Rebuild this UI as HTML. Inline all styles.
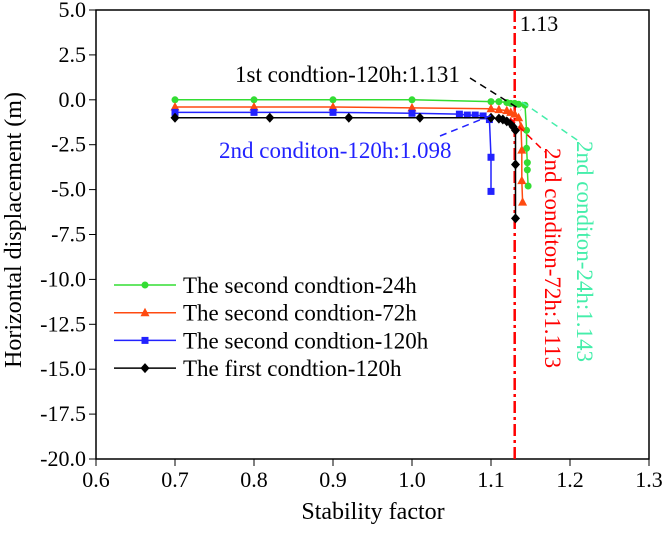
<!DOCTYPE html>
<html><head><meta charset="utf-8"><style>
body{margin:0;background:#fff}
svg text{font-family:"Liberation Serif",serif}
</style></head><body>
<svg id="c" width="664" height="528"></svg>
<script>
const xTicks=[0.6,0.7,0.8,0.9,1.0,1.1,1.2,1.3];
const yTicks=[5,2.5,0,-2.5,-5,-7.5,-10,-12.5,-15,-17.5,-20];
const g24x=[0.7,0.8,0.9,1.0,1.1,1.11,1.12,1.125,1.13,1.135,1.143,1.145,1.145,1.146,1.146,1.147];
const g24y=[0,0,0,0,-0.1,-0.1,-0.15,-0.2,-0.2,-0.25,-0.3,-1.7,-2.7,-3.5,-3.9,-4.8];
const r72x=[0.7,0.8,0.9,1.0,1.1,1.11,1.12,1.125,1.13,1.135,1.138,1.139,1.139,1.14];
const r72y=[-0.4,-0.4,-0.4,-0.45,-0.5,-0.55,-0.6,-0.7,-0.8,-1.0,-1.5,-2.8,-4.5,-5.7];
const b120x=[0.7,0.8,0.9,1.0,1.06,1.07,1.08,1.09,1.098,1.1,1.1];
const b120y=[-0.7,-0.7,-0.7,-0.75,-0.8,-0.85,-0.85,-0.9,-1.1,-3.2,-5.1];
const k120x=[0.7,0.82,0.92,1.01,1.1,1.11,1.115,1.12,1.125,1.128,1.131,1.131,1.131];
const k120y=[-1.0,-1.0,-1.0,-1.0,-1.0,-1.05,-1.1,-1.2,-1.3,-1.5,-1.7,-3.6,-6.6];
const L=96,R=649,T=10,B=459;
const sx=v=>L+(v-0.6)/0.7*(R-L);
const sy=v=>T+(5-v)/25*(B-T);
const s=document.getElementById('c');const NS='http://www.w3.org/2000/svg';
function el(t,a,p){const e=document.createElementNS(NS,t);for(const k in a)e.setAttribute(k,a[k]);(p||s).appendChild(e);return e;}
let f=el('rect',{x:L,y:T,width:R-L,height:B-T,fill:'none',stroke:'#000','stroke-width':1.5});

xTicks.forEach(v=>{el('line',{x1:sx(v),x2:sx(v),y1:B,y2:B+7,stroke:'#000'});
 const t=el('text',{x:sx(v),y:487,'text-anchor':'middle','font-size':22});t.textContent=v.toFixed(1);
 });
yTicks.forEach(v=>{el('line',{x1:L-7,x2:L,y1:sy(v),y2:sy(v),stroke:'#000'});
 const t=el('text',{x:L-10,y:sy(v)+7,'text-anchor':'end','font-size':22});t.textContent=v.toFixed(1);
 });
let xt=el('text',{x:373,y:519,'text-anchor':'middle','font-size':24});xt.textContent='Stability factor';

let yt=el('text',{x:21,y:230,'text-anchor':'middle','font-size':24,transform:'rotate(-90 21 230)'});yt.textContent='Horizontal displacement (m)';

let rl=el('line',{x1:sx(1.13),x2:sx(1.13),y1:T,y2:B,stroke:'#f00','stroke-width':2.5,'stroke-dasharray':'12,4,3,4'});

let rt=el('text',{x:sx(1.13)+5,y:31,'font-size':22});rt.textContent='1.13';

function marker(type,x,y,c){
 if(type==='c')return el('circle',{cx:x,cy:y,r:3.5,fill:c});
 if(type==='t')return el('polygon',{points:`${x},${y-5} ${x-4.5},${y+3.5} ${x+4.5},${y+3.5}`,fill:c});
 if(type==='s')return el('rect',{x:x-3.5,y:y-3.5,width:7,height:7,fill:c});
 return el('polygon',{points:`${x},${y-5} ${x+4.5},${y} ${x},${y+5} ${x-4.5},${y}`,fill:c});
}
const series=[[g24x,g24y,'#33dd33','c','series-24h'],[r72x,r72y,'#ff4a10','t','series-72h'],[b120x,b120y,'#2222ff','s','series-120h'],[k120x,k120y,'#000','d','series-first-120h']];
series.forEach(([xs,ys,c,m,n])=>{
 const p=el('polyline',{points:xs.map((x,i)=>sx(x)+','+sy(ys[i])).join(' '),fill:'none',stroke:c,'stroke-width':1.5});
 
 xs.forEach((x,i)=>{const mk=marker(m,sx(x),sy(ys[i]),c);
  });
});
function ann(x1,y1,x2,y2,c,name){const a=el('line',{x1,y1,x2,y2,stroke:c,'stroke-width':1.5,'stroke-dasharray':'7,5'});
 }
ann(470,78,521,110,'#000','annotation-leader-first');
ann(440,136,492,115,'#2222ff','annotation-leader-blue');
ann(510,118,545,152,'#f00','annotation-leader-72h');
ann(522,102,580,142,'#44eeaa','annotation-leader-24h');
let a1=el('text',{x:235,y:82,'font-size':23,fill:'#000'});a1.textContent='1st condtion-120h:1.131';

let a2=el('text',{x:219,y:158,'font-size':23,fill:'#2222ff'});a2.textContent='2nd conditon-120h:1.098';

let a3=el('text',{x:545,y:148,'font-size':23,fill:'#f00',transform:'rotate(90 545 148)'});a3.textContent='2nd conditon-72h:1.113';

let a4=el('text',{x:577,y:141,'font-size':23,fill:'#44eeaa',transform:'rotate(90 577 141)'});a4.textContent='2nd conditon-24h:1.143';

const legNames=['The second condtion-24h','The second condtion-72h','The second condtion-120h','The first condtion-120h'];
series.forEach(([xs,ys,c,m,n],i)=>{const y=285+i*27.7;
 const ln=el('line',{x1:114,x2:176,y1:y,y2:y,stroke:c,'stroke-width':1.5});
 
 const mk=marker(m,145,y,c);
 const t=el('text',{x:183,y:y+8,'font-size':23});t.textContent=legNames[i];
 });
</script>
</body></html>
